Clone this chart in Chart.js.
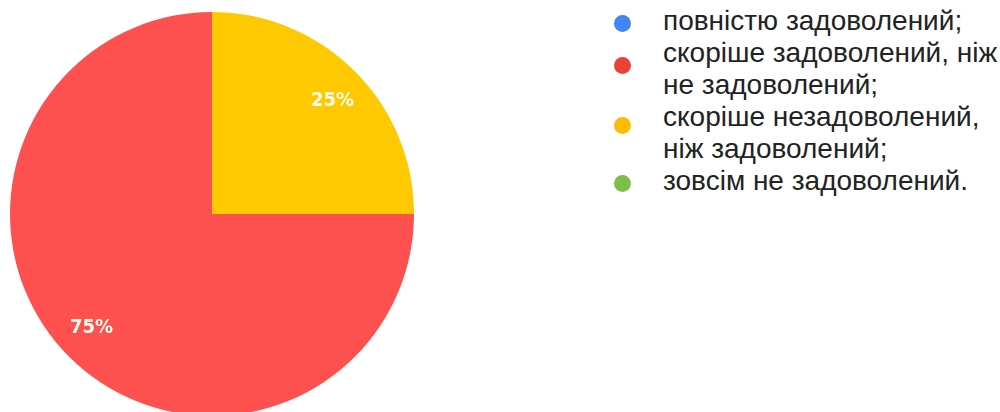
<!DOCTYPE html>
<html>
<head>
<meta charset="utf-8">
<script src="https://cdn.jsdelivr.net/npm/chart.js@4.4.1/dist/chart.umd.min.js"></script>
<style>
  html, body { margin: 0; padding: 0; background: #fff; overflow: hidden; }
  body { width: 1000px; height: 412px; position: relative; }
  #pieBox { position: absolute; left: 10px; top: 12px; width: 404px; height: 404px; }
  #legend { position: absolute; left: 610px; top: 5px; font-family: "Liberation Sans", Arial, sans-serif; font-size: 28px; color: #222; }
  .item { position: relative; padding-left: 53px; line-height: 32px; white-space: nowrap; }
  .dot { position: absolute; left: 4px; width: 17px; height: 17px; border-radius: 50%; }
</style>
</head>
<body>
<div id="pieBox"><canvas id="pie"></canvas></div>
<div id="legend"></div>
<script>
// categories and values (percent of answers)
const labels = [
  ['повністю задоволений;'],
  ['скоріше задоволений, ніж', 'не задоволений;'],
  ['скоріше незадоволений,', 'ніж задоволений;'],
  ['зовсім не задоволений.']
];
const values = [0, 75, 25, 0];
const sliceColors = ['#4285f4', '#ff5050', '#ffc900', '#6abf4b'];
const dotColors = ['#4285f4', '#ea4335', '#fbbc04', '#7cc04b'];

// percentage labels inside slices
const sliceLabels = {
  id: 'sliceLabels',
  afterDatasetsDraw(chart) {
    const ctx = chart.ctx;
    const total = values.reduce((a, b) => a + b, 0);
    ctx.save();
    ctx.font = 'bold 20px "DejaVu Sans Condensed", "DejaVu Sans", sans-serif';
    ctx.fillStyle = '#fffbea';
    ctx.textAlign = 'center';
    ctx.textBaseline = 'middle';
    chart.getDatasetMeta(0).data.forEach((arc, i) => {
      if (!values[i]) return;
      const mid = (arc.startAngle + arc.endAngle) / 2 + 0.03;
      const d = arc.outerRadius * 0.82;
      const txt = Math.round(values[i] / total * 100) + '%';
      ctx.fillText(txt, arc.x + Math.cos(mid) * d, arc.y + Math.sin(mid) * d);
    });
    ctx.restore();
  }
};

new Chart(document.getElementById('pie'), {
  type: 'pie',
  data: {
    labels: labels.map(l => l.join(' ')),
    datasets: [{ data: values, backgroundColor: sliceColors, borderWidth: 0 }]
  },
  options: {
    responsive: true,
    maintainAspectRatio: false,
    animation: false,
    rotation: 90,
    layout: { padding: 0 },
    plugins: { legend: { display: false }, tooltip: { enabled: false } }
  },
  plugins: [sliceLabels]
});

// legend on the right
const dotTops = [10, 20, 16, 10];
const legend = document.getElementById('legend');
labels.forEach((lines, i) => {
  const item = document.createElement('div');
  item.className = 'item';
  item.innerHTML = lines.join('<br>');
  const dot = document.createElement('span');
  dot.className = 'dot';
  dot.style.background = dotColors[i];
  dot.style.top = dotTops[i] + 'px';
  item.appendChild(dot);
  legend.appendChild(item);
});
</script>
</body>
</html>
